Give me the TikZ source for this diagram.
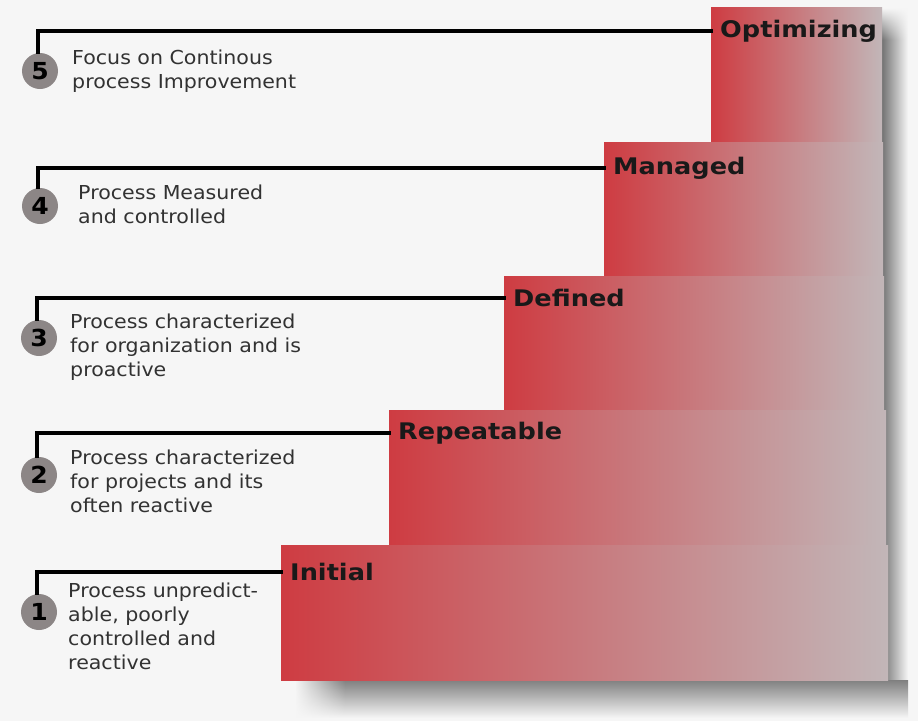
\documentclass[tikz,border=0pt]{standalone}
\usepackage{fontspec}
\setmainfont{DejaVu Sans}[FakeStretch=1.07]
\newfontfamily\stepfont{DejaVu Sans}[FakeStretch=1.12]
\usepackage{tikz}
\usetikzlibrary{positioning}
\usetikzlibrary{fadings}
\definecolor{stepred}{RGB}{206,60,66}
\definecolor{stepgrey}{RGB}{194,182,184}
\definecolor{dotgrey}{RGB}{140,134,134}
\definecolor{textgrey}{RGB}{50,50,50}
\definecolor{backgrey}{RGB}{246,246,246}
\tikzstyle{stepbox} = [left color=stepred, right color=stepgrey]
\tikzstyle{line} = [draw, line width=2.6pt, line cap=rect]
\tikzstyle{drop} = [top color=black!50, bottom color=backgrey]
\tikzstyle{side} = [left color=black!55, right color=backgrey]

\begin{document}
\begin{tikzpicture}[x=0.03cm, y=-0.03cm,
	dot/.style={circle, fill=dotgrey, minimum size=1.08cm, inner sep=0pt,
	font=\fontsize{20}{20}\selectfont\bfseries},
	level/.style={anchor=west, inner xsep=0.27cm, inner ysep=0pt,
	font=\stepfont\bfseries\fontsize{19.5}{20}\selectfont, text=black!90},
	desc/.style={anchor=north west, align=left, inner sep=0pt,
	text=textgrey, font=\fontsize{16.4}{20.5}\selectfont}]
	\fill [backgrey] (0,0) rectangle (918,721);
	\useasboundingbox (0,0) rectangle (918,721);
	%% shadow of the stairs
	\shade [side, path fading=north] (882,8) rectangle (908,40);
	\shade [side] (882,40) rectangle (908,690);
	\shade [drop, path fading=west] (295,680) rectangle (345,718);
	\shade [drop] (345,680) rectangle (908,718);
	%% Steps
	\shade [stepbox] (711,7) rectangle (882,142);
	\shade [stepbox] (604,142) rectangle (883,276);
	\shade [stepbox] (504,276) rectangle (884,410);
	\shade [stepbox] (389,410) rectangle (886,545);
	\shade [stepbox] (281,545) rectangle (888,680);
	%% Level names
	\node [level] (L5) at (711,31) {Optimizing};
	\node [level] (L4) at (604,168) {Managed};
	\node [level] (L3) at (504,298) {Defined};
	\node [level] (L2) at (389,433) {Repeatable};
	\node [level] (L1) at (281,572) {Initial};
	%% Numbers
	\node [dot] (N5) at (40,71) {5};
	\node [dot] (N4) at (40,206) {4};
	\node [dot] (N3) at (39,338) {3};
	\node [dot] (N2) at (39,475) {2};
	\node [dot] (N1) at (39,612) {1};
	%% Descriptions
	\node [desc] (D5) at (72,50) {Focus on Continous\\process Improvement};
	\node [desc] (D4) at (78,185) {Process Measured\\and controlled};
	\node [desc] (D3) at (70,314) {Process characterized\\for organization and is\\proactive};
	\node [desc] (D2) at (70,450) {Process characterized\\for projects and its\\often reactive};
	\node [desc] (D1) at (68,583) {Process unpredict-\\able, poorly\\controlled and\\reactive};
	%% Lines
	\path [line] (N5.north -| 38,0) |- (L5.west);
	\path [line] (N4.north -| 38,0) |- (L4.west);
	\path [line] (N3.north -| 37,0) |- (L3.west);
	\path [line] (N2.north -| 37,0) |- (L2.west);
	\path [line] (N1.north -| 37,0) |- (L1.west);
\end{tikzpicture}
\end{document}
